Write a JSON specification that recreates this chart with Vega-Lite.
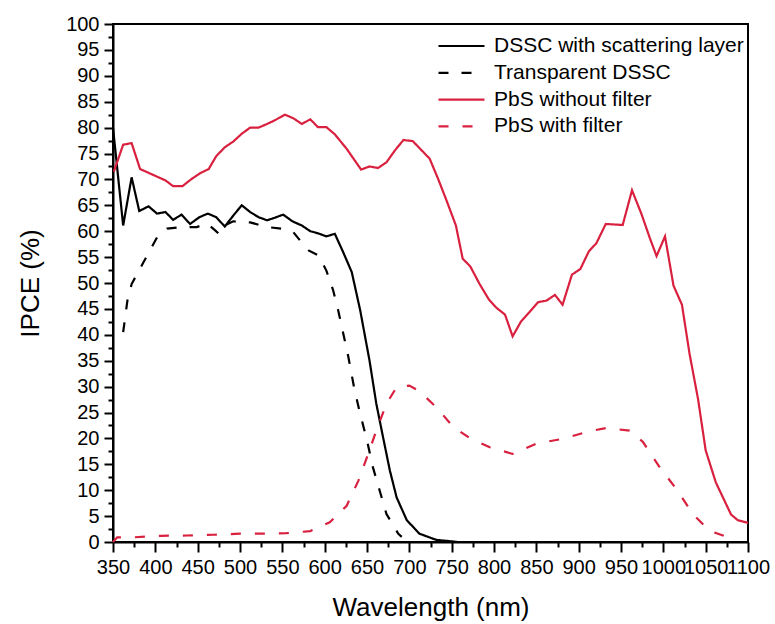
{
  "$schema": "https://vega.github.io/schema/vega-lite/v6.json",
  "autosize": "none",
  "width": 635,
  "height": 518,
  "padding": {"left": 113, "top": 24, "right": 27, "bottom": 82},
  "background": "white",
  "config": {
    "font": "Liberation Sans",
    "view": {"stroke": "black", "strokeWidth": 2},
    "axis": {"grid": false, "domainColor": "black", "domainWidth": 2, "tickColor": "black", "tickWidth": 2, "labelColor": "black", "titleColor": "black", "labelFont": "Liberation Sans", "titleFont": "Liberation Sans", "titleFontWeight": "normal"}
  },
  "data": {"values": [
    {"s": "DSSC with scattering layer", "x": 350, "y": 80},
    {"s": "DSSC with scattering layer", "x": 362, "y": 61.1},
    {"s": "DSSC with scattering layer", "x": 372, "y": 70.4},
    {"s": "DSSC with scattering layer", "x": 381, "y": 63.9},
    {"s": "DSSC with scattering layer", "x": 392, "y": 64.8},
    {"s": "DSSC with scattering layer", "x": 402, "y": 63.4},
    {"s": "DSSC with scattering layer", "x": 412, "y": 63.7},
    {"s": "DSSC with scattering layer", "x": 421, "y": 62.2},
    {"s": "DSSC with scattering layer", "x": 431, "y": 63.2},
    {"s": "DSSC with scattering layer", "x": 441, "y": 61.4},
    {"s": "DSSC with scattering layer", "x": 452, "y": 62.7},
    {"s": "DSSC with scattering layer", "x": 462, "y": 63.4},
    {"s": "DSSC with scattering layer", "x": 472, "y": 62.7},
    {"s": "DSSC with scattering layer", "x": 482, "y": 60.9},
    {"s": "DSSC with scattering layer", "x": 492, "y": 63},
    {"s": "DSSC with scattering layer", "x": 502, "y": 65},
    {"s": "DSSC with scattering layer", "x": 512, "y": 63.7},
    {"s": "DSSC with scattering layer", "x": 522, "y": 62.7},
    {"s": "DSSC with scattering layer", "x": 532, "y": 62.1},
    {"s": "DSSC with scattering layer", "x": 541, "y": 62.6},
    {"s": "DSSC with scattering layer", "x": 551, "y": 63.2},
    {"s": "DSSC with scattering layer", "x": 562, "y": 61.9},
    {"s": "DSSC with scattering layer", "x": 573, "y": 61.1},
    {"s": "DSSC with scattering layer", "x": 583, "y": 60},
    {"s": "DSSC with scattering layer", "x": 592, "y": 59.6},
    {"s": "DSSC with scattering layer", "x": 602, "y": 59},
    {"s": "DSSC with scattering layer", "x": 612, "y": 59.5},
    {"s": "DSSC with scattering layer", "x": 622, "y": 55.9},
    {"s": "DSSC with scattering layer", "x": 632, "y": 52.1},
    {"s": "DSSC with scattering layer", "x": 642, "y": 44.7},
    {"s": "DSSC with scattering layer", "x": 653, "y": 35},
    {"s": "DSSC with scattering layer", "x": 661, "y": 26.7},
    {"s": "DSSC with scattering layer", "x": 669, "y": 20.2},
    {"s": "DSSC with scattering layer", "x": 677, "y": 13.8},
    {"s": "DSSC with scattering layer", "x": 685, "y": 8.6},
    {"s": "DSSC with scattering layer", "x": 697, "y": 4.2},
    {"s": "DSSC with scattering layer", "x": 712, "y": 1.6},
    {"s": "DSSC with scattering layer", "x": 732, "y": 0.4},
    {"s": "DSSC with scattering layer", "x": 752, "y": 0.1},
    {"s": "DSSC with scattering layer", "x": 757, "y": 0},
    {"s": "Transparent DSSC", "x": 362, "y": 40.5},
    {"s": "Transparent DSSC", "x": 367, "y": 46.6},
    {"s": "Transparent DSSC", "x": 372, "y": 49.8},
    {"s": "Transparent DSSC", "x": 386, "y": 54},
    {"s": "Transparent DSSC", "x": 402, "y": 58.8},
    {"s": "Transparent DSSC", "x": 414, "y": 60.5},
    {"s": "Transparent DSSC", "x": 431, "y": 60.8},
    {"s": "Transparent DSSC", "x": 449, "y": 60.8},
    {"s": "Transparent DSSC", "x": 461, "y": 61.5},
    {"s": "Transparent DSSC", "x": 471, "y": 60.1},
    {"s": "Transparent DSSC", "x": 475, "y": 59.5},
    {"s": "Transparent DSSC", "x": 482, "y": 61.1},
    {"s": "Transparent DSSC", "x": 492, "y": 61.9},
    {"s": "Transparent DSSC", "x": 512, "y": 61.7},
    {"s": "Transparent DSSC", "x": 532, "y": 60.8},
    {"s": "Transparent DSSC", "x": 549, "y": 60.5},
    {"s": "Transparent DSSC", "x": 563, "y": 59.8},
    {"s": "Transparent DSSC", "x": 571, "y": 58.2},
    {"s": "Transparent DSSC", "x": 581, "y": 56.3},
    {"s": "Transparent DSSC", "x": 593, "y": 55.3},
    {"s": "Transparent DSSC", "x": 602, "y": 52.4},
    {"s": "Transparent DSSC", "x": 610, "y": 48.6},
    {"s": "Transparent DSSC", "x": 616, "y": 44.7},
    {"s": "Transparent DSSC", "x": 622, "y": 40.2},
    {"s": "Transparent DSSC", "x": 628, "y": 35.7},
    {"s": "Transparent DSSC", "x": 635, "y": 29.6},
    {"s": "Transparent DSSC", "x": 642, "y": 24.7},
    {"s": "Transparent DSSC", "x": 650, "y": 19.6},
    {"s": "Transparent DSSC", "x": 657, "y": 14.4},
    {"s": "Transparent DSSC", "x": 665, "y": 9.9},
    {"s": "Transparent DSSC", "x": 673, "y": 5.4},
    {"s": "Transparent DSSC", "x": 687, "y": 1.6},
    {"s": "Transparent DSSC", "x": 691, "y": 1.0},
    {"s": "PbS without filter", "x": 351, "y": 71.5},
    {"s": "PbS without filter", "x": 362, "y": 76.7},
    {"s": "PbS without filter", "x": 372, "y": 77},
    {"s": "PbS without filter", "x": 382, "y": 72},
    {"s": "PbS without filter", "x": 412, "y": 69.8},
    {"s": "PbS without filter", "x": 421, "y": 68.7},
    {"s": "PbS without filter", "x": 432, "y": 68.7},
    {"s": "PbS without filter", "x": 443, "y": 70.1},
    {"s": "PbS without filter", "x": 453, "y": 71.2},
    {"s": "PbS without filter", "x": 463, "y": 72},
    {"s": "PbS without filter", "x": 472, "y": 74.5},
    {"s": "PbS without filter", "x": 482, "y": 76.2},
    {"s": "PbS without filter", "x": 492, "y": 77.3},
    {"s": "PbS without filter", "x": 502, "y": 78.8},
    {"s": "PbS without filter", "x": 512, "y": 80},
    {"s": "PbS without filter", "x": 522, "y": 80},
    {"s": "PbS without filter", "x": 532, "y": 80.7},
    {"s": "PbS without filter", "x": 541, "y": 81.4},
    {"s": "PbS without filter", "x": 553, "y": 82.5},
    {"s": "PbS without filter", "x": 563, "y": 81.8},
    {"s": "PbS without filter", "x": 573, "y": 80.7},
    {"s": "PbS without filter", "x": 583, "y": 81.6},
    {"s": "PbS without filter", "x": 592, "y": 80.1},
    {"s": "PbS without filter", "x": 602, "y": 80.1},
    {"s": "PbS without filter", "x": 612, "y": 78.7},
    {"s": "PbS without filter", "x": 626, "y": 75.9},
    {"s": "PbS without filter", "x": 643, "y": 71.9},
    {"s": "PbS without filter", "x": 653, "y": 72.5},
    {"s": "PbS without filter", "x": 663, "y": 72.2},
    {"s": "PbS without filter", "x": 673, "y": 73.3},
    {"s": "PbS without filter", "x": 683, "y": 75.6},
    {"s": "PbS without filter", "x": 693, "y": 77.6},
    {"s": "PbS without filter", "x": 704, "y": 77.4},
    {"s": "PbS without filter", "x": 714, "y": 75.7},
    {"s": "PbS without filter", "x": 724, "y": 74},
    {"s": "PbS without filter", "x": 734, "y": 70.1},
    {"s": "PbS without filter", "x": 744, "y": 65.9},
    {"s": "PbS without filter", "x": 755, "y": 61.1},
    {"s": "PbS without filter", "x": 763, "y": 54.7},
    {"s": "PbS without filter", "x": 772, "y": 53.2},
    {"s": "PbS without filter", "x": 783, "y": 49.8},
    {"s": "PbS without filter", "x": 794, "y": 46.8},
    {"s": "PbS without filter", "x": 803, "y": 45.2},
    {"s": "PbS without filter", "x": 813, "y": 43.9},
    {"s": "PbS without filter", "x": 822, "y": 39.7},
    {"s": "PbS without filter", "x": 832, "y": 42.6},
    {"s": "PbS without filter", "x": 842, "y": 44.4},
    {"s": "PbS without filter", "x": 852, "y": 46.3},
    {"s": "PbS without filter", "x": 862, "y": 46.6},
    {"s": "PbS without filter", "x": 872, "y": 47.7},
    {"s": "PbS without filter", "x": 881, "y": 45.8},
    {"s": "PbS without filter", "x": 892, "y": 51.6},
    {"s": "PbS without filter", "x": 902, "y": 52.7},
    {"s": "PbS without filter", "x": 912, "y": 56.1},
    {"s": "PbS without filter", "x": 921, "y": 57.7},
    {"s": "PbS without filter", "x": 932, "y": 61.4},
    {"s": "PbS without filter", "x": 952, "y": 61.2},
    {"s": "PbS without filter", "x": 963, "y": 67.9},
    {"s": "PbS without filter", "x": 974, "y": 63.4},
    {"s": "PbS without filter", "x": 984, "y": 58.7},
    {"s": "PbS without filter", "x": 992, "y": 55.2},
    {"s": "PbS without filter", "x": 1002, "y": 59},
    {"s": "PbS without filter", "x": 1012, "y": 49.5},
    {"s": "PbS without filter", "x": 1022, "y": 45.8},
    {"s": "PbS without filter", "x": 1031, "y": 36.3},
    {"s": "PbS without filter", "x": 1041, "y": 27.6},
    {"s": "PbS without filter", "x": 1050, "y": 17.7},
    {"s": "PbS without filter", "x": 1062, "y": 11.5},
    {"s": "PbS without filter", "x": 1080, "y": 5.3},
    {"s": "PbS without filter", "x": 1088, "y": 4.2},
    {"s": "PbS without filter", "x": 1100, "y": 3.7},
    {"s": "PbS with filter", "x": 350, "y": 0},
    {"s": "PbS with filter", "x": 355, "y": 0.9},
    {"s": "PbS with filter", "x": 374, "y": 0.9},
    {"s": "PbS with filter", "x": 406, "y": 1.2},
    {"s": "PbS with filter", "x": 437, "y": 1.25},
    {"s": "PbS with filter", "x": 469, "y": 1.4},
    {"s": "PbS with filter", "x": 500, "y": 1.6},
    {"s": "PbS with filter", "x": 524, "y": 1.6},
    {"s": "PbS with filter", "x": 555, "y": 1.7},
    {"s": "PbS with filter", "x": 583, "y": 2.1},
    {"s": "PbS with filter", "x": 606, "y": 3.8},
    {"s": "PbS with filter", "x": 626, "y": 7},
    {"s": "PbS with filter", "x": 640, "y": 11.9},
    {"s": "PbS with filter", "x": 650, "y": 16.4},
    {"s": "PbS with filter", "x": 661, "y": 21.5},
    {"s": "PbS with filter", "x": 673, "y": 26.7},
    {"s": "PbS with filter", "x": 685, "y": 29.9},
    {"s": "PbS with filter", "x": 700, "y": 30.2},
    {"s": "PbS with filter", "x": 712, "y": 29.1},
    {"s": "PbS with filter", "x": 732, "y": 26},
    {"s": "PbS with filter", "x": 752, "y": 22.2},
    {"s": "PbS with filter", "x": 771, "y": 20.1},
    {"s": "PbS with filter", "x": 795, "y": 18.3},
    {"s": "PbS with filter", "x": 822, "y": 17},
    {"s": "PbS with filter", "x": 850, "y": 19},
    {"s": "PbS with filter", "x": 881, "y": 19.9},
    {"s": "PbS with filter", "x": 913, "y": 21.4},
    {"s": "PbS with filter", "x": 933, "y": 22},
    {"s": "PbS with filter", "x": 960, "y": 21.5},
    {"s": "PbS with filter", "x": 976, "y": 19.3},
    {"s": "PbS with filter", "x": 995, "y": 14.6},
    {"s": "PbS with filter", "x": 1015, "y": 10.3},
    {"s": "PbS with filter", "x": 1035, "y": 5.4},
    {"s": "PbS with filter", "x": 1054, "y": 2.2},
    {"s": "PbS with filter", "x": 1082, "y": 0.6},
    {"s": "PbS with filter", "x": 1086, "y": 0.5}
  ]},
  "layer": [
    {
      "mark": {"type": "line", "strokeOpacity": 0},
      "encoding": {
        "x": {"field": "x", "type": "quantitative", "scale": {"domain": [350, 1100], "nice": false, "zero": false},
          "axis": {"orient": "bottom", "values": [375, 425, 475, 525, 575, 625, 675, 725, 775, 825, 875, 925, 975, 1025, 1075], "labels": false, "domain": false, "tickSize": 5, "title": null}},
        "y": {"field": "y", "type": "quantitative", "scale": {"domain": [0, 100], "nice": false},
          "axis": {"orient": "left", "values": [2.5, 7.5, 12.5, 17.5, 22.5, 27.5, 32.5, 37.5, 42.5, 47.5, 52.5, 57.5, 62.5, 67.5, 72.5, 77.5, 82.5, 87.5, 92.5, 97.5], "labels": false, "domain": false, "tickSize": 5, "title": null}},
        "detail": {"field": "s"}
      }
    },
    {
      "mark": {"type": "line", "strokeWidth": 2.2},
      "encoding": {
        "x": {"field": "x", "type": "quantitative", "scale": {"domain": [350, 1100], "nice": false, "zero": false},
          "axis": {"orient": "bottom", "format": "d", "values": [350, 400, 450, 500, 550, 600, 650, 700, 750, 800, 850, 900, 950, 1000, 1050, 1100], "tickSize": 10, "labelFontSize": 20, "labelOverlap": false, "labelFlush": false, "labelPadding": 5, "title": "Wavelength (nm)", "titleFontSize": 26, "titlePadding": 17}},
        "y": {"field": "y", "type": "quantitative", "scale": {"domain": [0, 100], "nice": false},
          "axis": {"orient": "left", "format": "d", "values": [0, 5, 10, 15, 20, 25, 30, 35, 40, 45, 50, 55, 60, 65, 70, 75, 80, 85, 90, 95, 100], "tickSize": 9, "labelFontSize": 20, "labelOverlap": false, "labelFlush": false, "labelPadding": 5, "title": "IPCE (%)", "titleFontSize": 26, "titlePadding": 22}},
        "color": {"field": "s", "type": "nominal",
          "scale": {"domain": ["DSSC with scattering layer", "Transparent DSSC", "PbS without filter", "PbS with filter"], "range": ["#000000", "#000000", "#d9203f", "#d9203f"]},
          "legend": {"orient": "none", "legendX": 324, "legendY": 11, "title": null, "symbolType": "stroke", "symbolSize": 2116, "symbolStrokeWidth": 2.2, "labelFontSize": 21, "labelFont": "Liberation Sans", "labelColor": "black", "labelOffset": 8, "labelLimit": 0, "clipHeight": 22, "rowPadding": 4.8}},
        "strokeDash": {"field": "s", "type": "nominal",
          "scale": {"domain": ["DSSC with scattering layer", "Transparent DSSC", "PbS without filter", "PbS with filter"], "range": [[1, 0], [10, 13], [1, 0], [10, 14]]},
          "legend": null}
      }
    }
  ],
  "resolve": {"axis": {"x": "independent", "y": "independent"}}
}
